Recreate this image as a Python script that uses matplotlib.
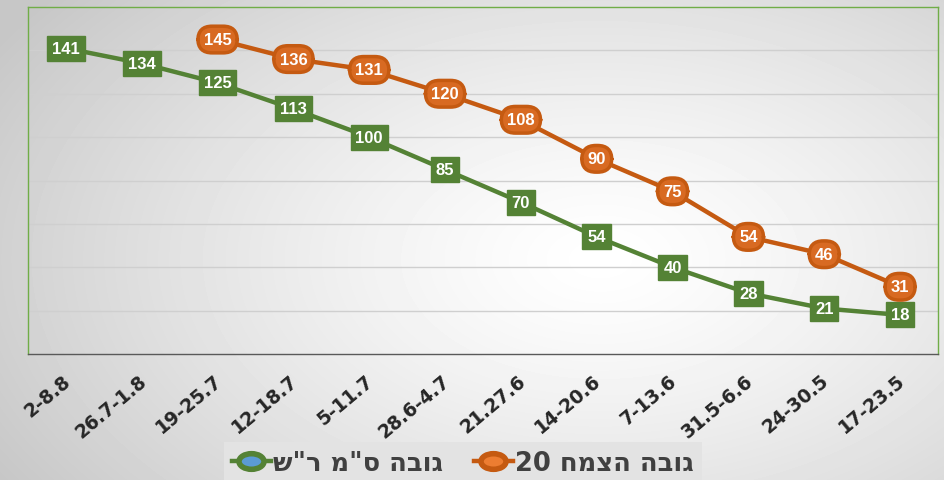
import numpy as np
import matplotlib.pyplot as plt
import matplotlib.transforms as mtransforms
from matplotlib.lines import Line2D
from matplotlib.path import Path

plt.rcParams['font.family'] = ['Liberation Sans', 'DejaVu Sans']

# week ranges (as shown, left to right)
weeks = ['2-8.8', '26.7-1.8', '19-25.7', '12-18.7', '5-11.7', '28.6-4.7',
         '21.27.6', '14-20.6', '7-13.6', '31.5-6.6', '24-30.5', '17-23.5']

# height series
green_vals = [141, 134, 125, 113, 100, 85, 70, 54, 40, 28, 21, 18]
orange_vals = [None, None, 145, 136, 131, 120, 108, 90, 75, 54, 46, 31]

# legend names (logical Hebrew order)
green_name = 'גובה ס"מ ר"ש'
orange_name = 'גובה הצמח 20'


def visual_rtl(s):
    """Reverse Hebrew words for display, keep digit runs as they are."""
    words = s.split(' ')
    out = []
    for w in reversed(words):
        if w.isdigit():
            out.append(w)
        else:
            out.append(w[::-1])
    return ' '.join(out)


GREEN = '#548235'
ORANGE = '#C55A11'

fig = plt.figure(figsize=(9.44, 4.81), dpi=100)

# radial background gradient
bg = fig.add_axes([0, 0, 1, 1], zorder=-10)
yy, xx = np.mgrid[0:481, 0:944]
d = np.sqrt(((xx - 600) / 700.0) ** 2 + ((yy - 260) / 420.0) ** 2)
shade = np.clip(1.0 - 0.22 * d ** 1.3, 0.78, 1.0)
bg.imshow(shade, cmap='gray', vmin=0, vmax=1, aspect='auto')
bg.axis('off')

ax = fig.add_axes([28 / 944, 1 - 355 / 481, 910 / 944, 347 / 481])
ax.set_facecolor('none')

x = np.arange(len(weeks))
ax.plot(x, green_vals, color=GREEN, lw=3.2, zorder=3)
ox = [i for i, v in enumerate(orange_vals) if v is not None]
oy = [v for v in orange_vals if v is not None]
ax.plot(ox, oy, color=ORANGE, lw=3.2, zorder=3)

for xi, v in zip(x, green_vals):
    ax.text(xi, v, str(v), ha='center', va='center', color='white',
            fontsize=12, fontweight='bold', zorder=5,
            bbox=dict(boxstyle='square,pad=0.3', fc=GREEN, ec=GREEN, lw=1))
for xi, v in zip(ox, oy):
    ax.text(xi, v, str(v), ha='center', va='center', color='white',
            fontsize=12, fontweight='bold', zorder=5,
            bbox=dict(boxstyle='round,pad=0.35,rounding_size=0.85',
                      fc='#D86A22', ec=ORANGE, lw=2.5))

ax.set_xlim(-0.5, len(weeks) - 0.5)
ax.set_ylim(0, 160)
ax.set_yticks([20, 40, 60, 80, 100, 120, 140])
ax.yaxis.grid(True, color='#cfcfcf', lw=1)
ax.tick_params(axis='y', left=False, labelleft=False)
ax.tick_params(axis='x', length=0, pad=12)
ax.set_xticks(x)
ax.set_xticklabels(weeks, rotation=40, ha='right', rotation_mode='anchor',
                   fontsize=13.5, fontweight='bold', color='#262626',
                   family='DejaVu Sans')
shift = mtransforms.ScaledTranslation(-4 / 100, 0, fig.dpi_scale_trans)
for lab in ax.get_xticklabels():
    lab.set_transform(lab.get_transform() + shift)
for side in ['left', 'right', 'top']:
    ax.spines[side].set_color('#70AD47')
    ax.spines[side].set_linewidth(1)
ax.spines['bottom'].set_color('#595959')
ax.spines['bottom'].set_linewidth(1)

# wide ellipse marker for the legend
circ = Path.unit_circle()
ellipse = Path(circ.vertices * np.array([1.6, 1.0]), circ.codes)

handles = [
    Line2D([0], [0], color=GREEN, lw=3.2, marker=ellipse, ms=18,
           mfc='#5B9BD5', mec=GREEN, mew=4),
    Line2D([0], [0], color=ORANGE, lw=3.2, marker=ellipse, ms=18,
           mfc='#ED7D31', mec=ORANGE, mew=4),
]
leg = fig.legend(handles, [visual_rtl(green_name), visual_rtl(orange_name)],
                 loc='center', bbox_to_anchor=(463 / 944, 1 - 464 / 481),
                 ncol=2, frameon=True, facecolor='#e3e3e3', edgecolor='none',
                 fancybox=False, framealpha=1, handlelength=1.5,
                 handletextpad=0.1, columnspacing=1.2, borderpad=0.3,
                 prop=dict(size=18.5, weight='bold', family='DejaVu Sans'))
for t in leg.get_texts():
    t.set_color('#404040')

fig.savefig('out.png', dpi=100)
